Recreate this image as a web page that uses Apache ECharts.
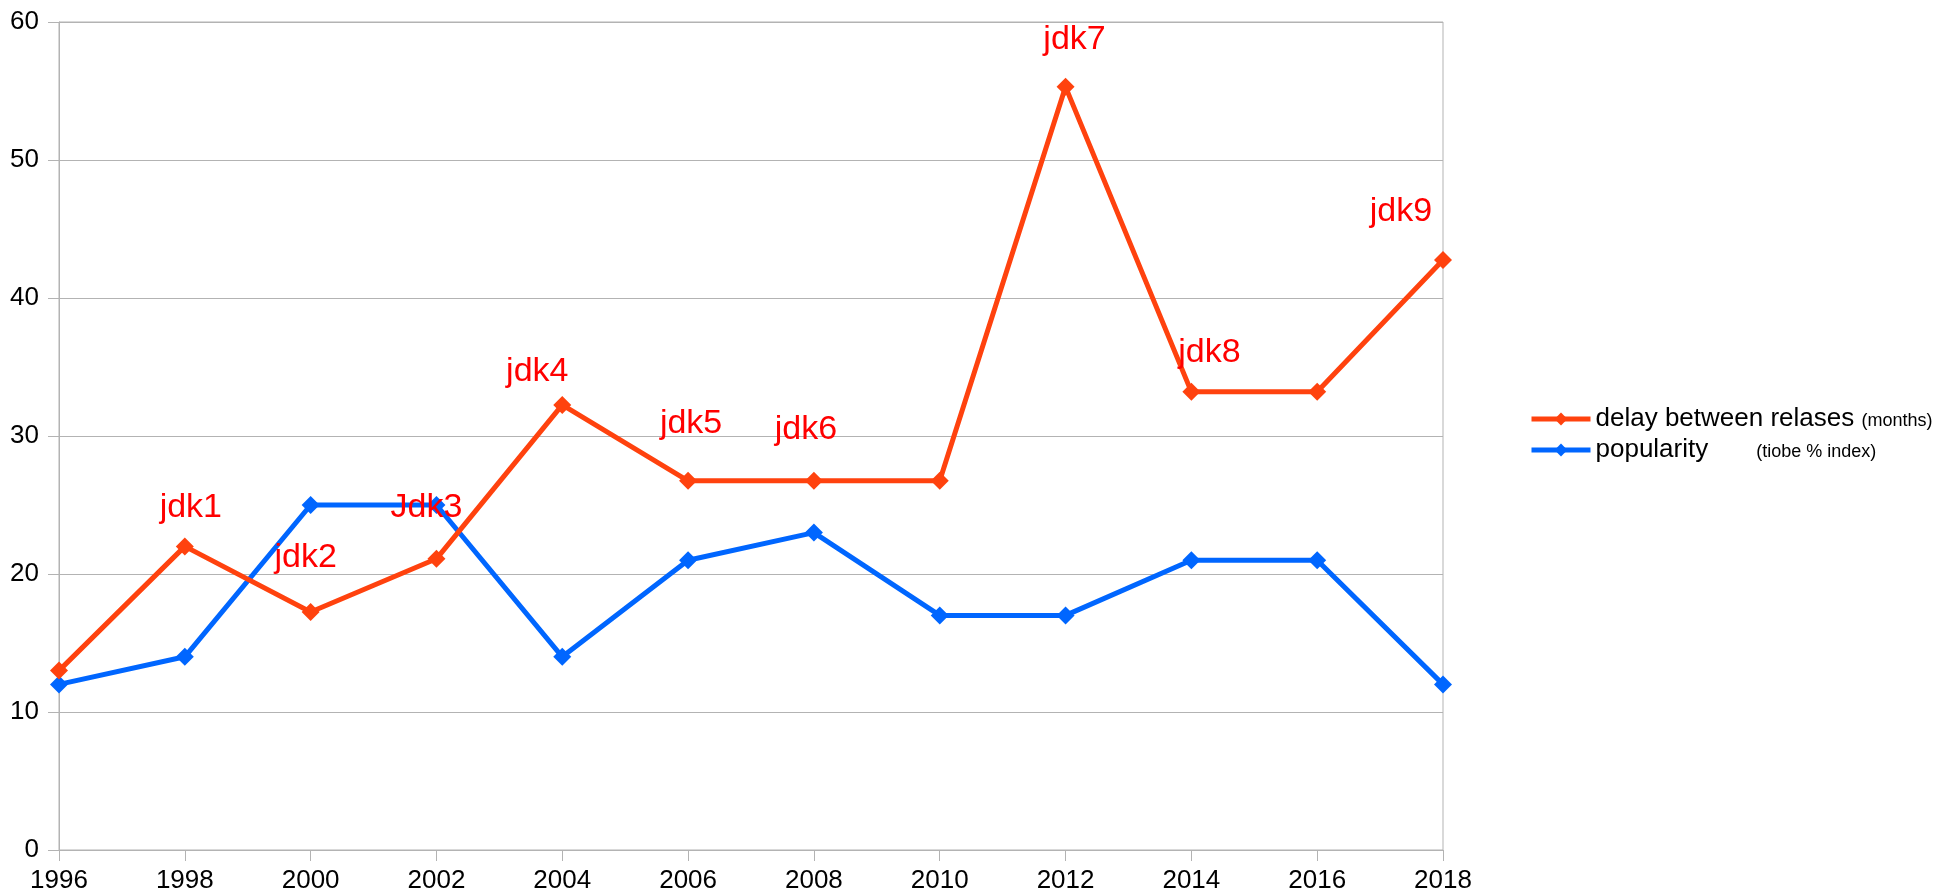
<!DOCTYPE html>
<html>
<head>
<meta charset="utf-8">
<script src="https://cdn.jsdelivr.net/npm/echarts@6/dist/echarts.min.js"></script>
<style>html,body{margin:0;padding:0;background:#fff}#c{width:1954px;height:894px}</style>
</head>
<body>
<div id="c"></div>
<script>
const years = ['1996','1998','2000','2002','2004','2006','2008','2010','2012','2014','2016','2018'];
const delayMonths = [13, 22, 17.25, 21.1, 32.25, 26.75, 26.75, 26.75, 55.3, 33.2, 33.2, 42.75];
const popularity = [12, 14, 25, 25, 14, 21, 23, 17, 17, 21, 21, 12];
const jdkLabels = ['', 'jdk1', 'jdk2', 'Jdk3', 'jdk4', 'jdk5', 'jdk6', '', 'jdk7', 'jdk8', '', 'jdk9'];
const labelOffsets = [[0,0],[6,-39],[-5,-54],[-10,-51],[-25,-33],[3,-57],[-8,-51],[0,0],[9,-47],[18,-39],[0,0],[-42,-48]];
const yTicks = {min: 0, max: 60, interval: 10};

const FONT = '"Liberation Sans", Arial, sans-serif';
const chart = echarts.init(document.getElementById('c'));

const delayData = delayMonths.map((v, i) => ({
  value: v,
  label: jdkLabels[i] ? {
    show: true, formatter: jdkLabels[i], position: 'inside',
    offset: labelOffsets[i], color: '#ff0000', fontSize: 34, fontFamily: FONT
  } : {show: false}
}));

chart.setOption({
  animation: false,
  backgroundColor: '#fff',
  grid: {left: 59, right: 511, top: 22, bottom: 44, show: true, borderColor: '#b3b3b3', borderWidth: 1},
  xAxis: {
    type: 'category', data: years, boundaryGap: false,
    axisLine: {lineStyle: {color: '#b3b3b3', width: 1}},
    axisTick: {show: true, length: 11, lineStyle: {color: '#b3b3b3'}, alignWithLabel: true},
    axisLabel: {color: '#000', fontSize: 26, fontFamily: FONT, margin: 18},
    splitLine: {show: false}
  },
  yAxis: {
    type: 'value', min: yTicks.min, max: yTicks.max, interval: yTicks.interval,
    axisLine: {show: true, lineStyle: {color: '#b3b3b3', width: 1}},
    axisTick: {show: true, length: 11, lineStyle: {color: '#b3b3b3'}},
    axisLabel: {color: '#000', fontSize: 26, fontFamily: FONT, margin: 20},
    splitLine: {lineStyle: {color: '#b3b3b3', width: 1}}
  },
  legend: {
    orient: 'vertical', left: 1524, top: 401, itemWidth: 59, itemHeight: 16, itemGap: 5,
    lineStyle: {width: 5},
    textStyle: {fontFamily: FONT, fontSize: 26, color: '#000',
      rich: {
        a: {fontFamily: FONT, fontSize: 26, color: '#000'},
        b: {fontFamily: FONT, fontSize: 18, color: '#000', padding: [4, 0, 0, 0]},
        c: {fontFamily: FONT, fontSize: 18, color: '#000', padding: [4, 0, 0, 48]}
      }
    },
    formatter: function (name) {
      if (name === 'delay between relases') return '{a|delay between relases} {b|(months)}';
      return '{a|popularity}{c|(tiobe % index)}';
    },
    data: ['delay between relases', 'popularity']
  },
  series: [
    {
      name: 'delay between relases', type: 'line', data: delayData,
      symbol: 'diamond', symbolSize: 18, color: '#ff420e',
      lineStyle: {width: 5, color: '#ff420e'}, itemStyle: {color: '#ff420e'},
      z: 3
    },
    {
      name: 'popularity', type: 'line', data: popularity,
      symbol: 'diamond', symbolSize: 18, color: '#0066ff',
      lineStyle: {width: 5, color: '#0066ff'}, itemStyle: {color: '#0066ff'},
      z: 2
    }
  ]
});
</script>
</body>
</html>
